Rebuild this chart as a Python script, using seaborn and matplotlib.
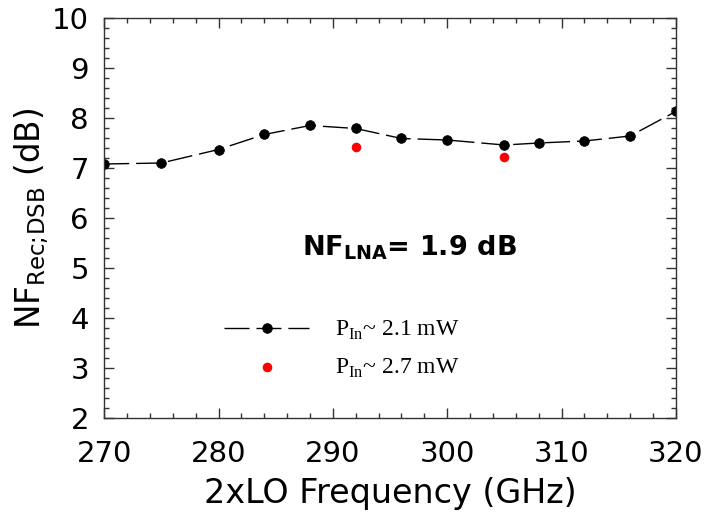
import numpy as np
import pandas as pd
import matplotlib
matplotlib.use('Agg')
import matplotlib.pyplot as plt
from matplotlib.ticker import MultipleLocator
import seaborn as sns

# data
freq_21 = [270, 275, 280, 284, 288, 292, 296, 300, 305, 308, 312, 316, 320]
nf_21 = [7.08, 7.10, 7.37, 7.67, 7.85, 7.79, 7.59, 7.56, 7.46, 7.50, 7.54, 7.64, 8.13]
freq_27 = [292, 305]
nf_27 = [7.42, 7.23]

label_21 = r'P$_{\rm In}$~ 2.1 mW'
label_27 = r'P$_{\rm In}$~ 2.7 mW'

sns.set_style('ticks')
plt.rcParams['font.family'] = ['DejaVu Sans']
plt.rcParams['text.color'] = 'black'
plt.rcParams['axes.labelcolor'] = 'black'
plt.rcParams['xtick.color'] = 'black'
plt.rcParams['ytick.color'] = 'black'
plt.rcParams['mathtext.fontset'] = 'custom'
plt.rcParams['mathtext.rm'] = 'Liberation Serif'
plt.rcParams['mathtext.sf'] = 'DejaVu Sans'
plt.rcParams['mathtext.bf'] = 'DejaVu Sans:bold'

df1 = pd.DataFrame({'f': freq_21, 'nf': nf_21})
df2 = pd.DataFrame({'f': freq_27, 'nf': nf_27})

fig = plt.figure(figsize=(7.04, 5.13), dpi=100)
ax = fig.add_axes([0.148, 0.185, 0.812, 0.78])

sns.lineplot(data=df1, x='f', y='nf', ax=ax, color='black', marker='o',
             markersize=7, markeredgecolor='black', markeredgewidth=0.5,
             linewidth=1.0, linestyle=(0, (18, 5)), label=label_21)
sns.scatterplot(data=df2, x='f', y='nf', ax=ax, color='red', s=48,
                linewidth=0, label=label_27, zorder=3)

ax.set_xlim(270, 320)
ax.set_ylim(2, 10)
ax.xaxis.set_major_locator(MultipleLocator(10))
ax.xaxis.set_minor_locator(MultipleLocator(2))
ax.yaxis.set_major_locator(MultipleLocator(1))
ax.yaxis.set_minor_locator(MultipleLocator(0.2))
ax.tick_params(which='both', direction='in', top=True, right=True,
               labelsize=21, width=1.0, color='#333333')
ax.tick_params(which='major', length=7)
ax.tick_params(which='minor', length=3.5)
ax.tick_params(axis='x', which='major', pad=16)
ax.tick_params(axis='y', which='major', pad=11)
for s in ax.spines.values():
    s.set_linewidth(1.0)
    s.set_color('#333333')

ax.set_xlabel('2xLO Frequency (GHz)', fontsize=24, labelpad=6)
ax.set_ylabel(r'NF$_{\sf Rec;\!DSB}$ (dB)', fontsize=23.5, labelpad=1)

ax.text(287.3, 5.4, r'NF$_{\bf LNA}$= 1.9 dB', fontsize=19.5, fontweight='bold',
        va='center', ha='left')

leg = ax.legend(loc='center left', bbox_to_anchor=(0.21, 0.172), frameon=False,
                borderpad=0, borderaxespad=0, handlelength=3.6,
                handletextpad=1.1, labelspacing=0.6,
                prop={'family': 'Liberation Serif', 'size': 17})

fig.savefig('out.png', dpi=100)
